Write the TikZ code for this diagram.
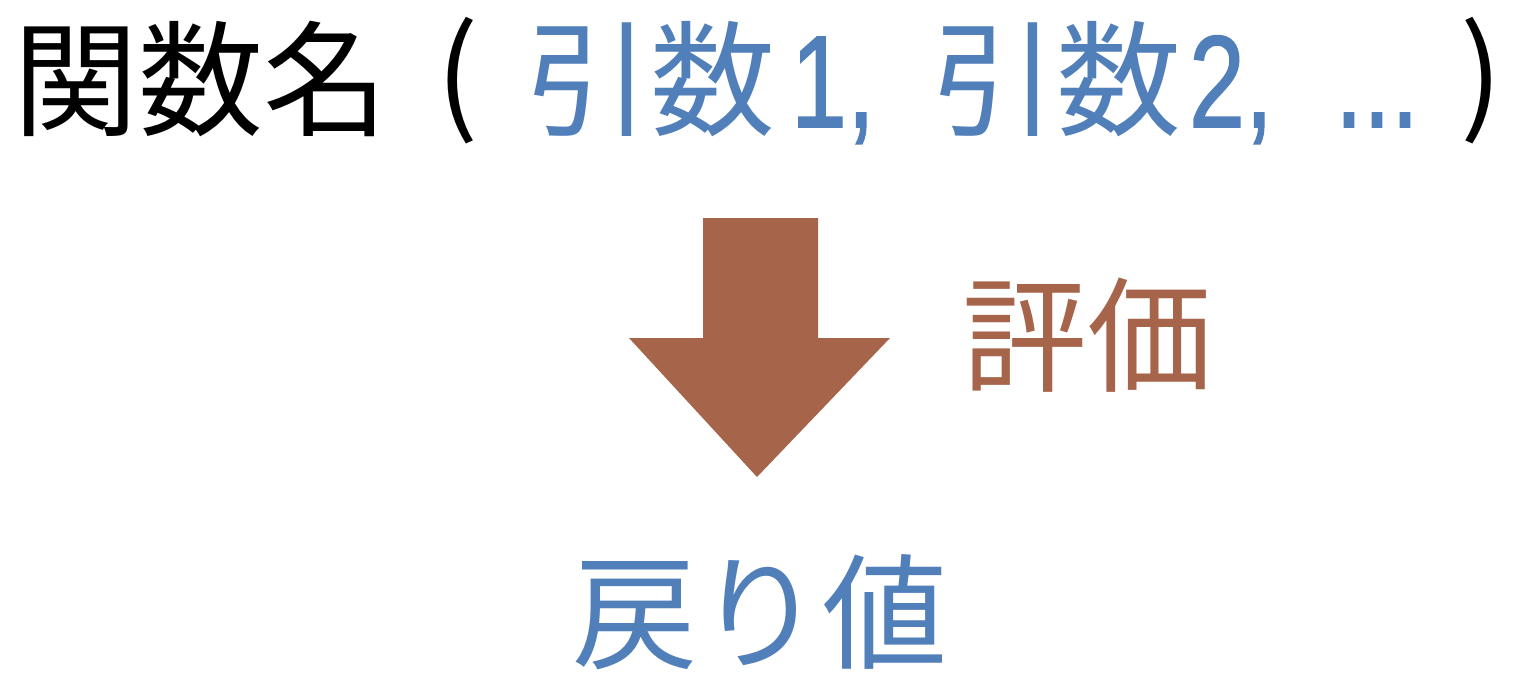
\documentclass[tikz,border=0pt]{standalone}
\usepackage{fontspec}
\setmainfont{Noto Sans CJK JP}
\newfontfamily\latfont[FakeBold=1.2]{Liberation Sans}
\definecolor{argblue}{RGB}{81,127,186}
\definecolor{evalbrown}{RGB}{166,101,75}
\begin{document}
\begin{tikzpicture}[x=1pt,y=-1pt,
  big/.style={inner sep=0pt, font=\fontsize{125}{125}\selectfont},
  lat/.style={inner sep=0pt, anchor=base, xscale=0.77, font=\latfont\fontsize{131}{131}\selectfont}]
\useasboundingbox (0,0) rectangle (1518,694);
\node[big, black] (fname) at (201,79) {関数名};
\node[big, black] (lp) at (458,81) {(};
\node[big, argblue] (arga) at (650,79) {引数};
\node[lat, argblue] (one) at (833,127) {1,};
\node[big, argblue] (argb) at (1056,79) {引数};
\node[lat, argblue] (two) at (1231,127) {2,};
\node[lat, argblue] (dots) at (1377,127) {...};
\node[big, black] (rp) at (1482,81) {)};
\fill[evalbrown] (703,218) -- (818,218) -- (818,338) -- (890,338) -- (757,477) -- (629,338) -- (703,338) -- cycle;
\node[big, evalbrown] (eval) at (1087,335) {評価};
\node[big, argblue] (ret) at (760,612) {戻り値};
\end{tikzpicture}
\end{document}
